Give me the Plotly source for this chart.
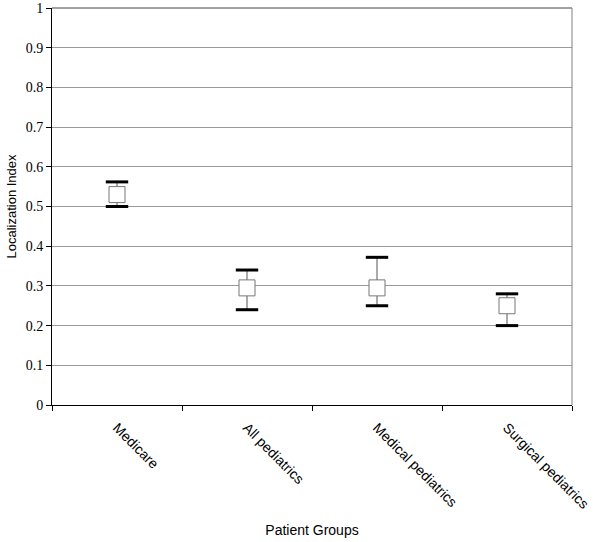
import plotly.graph_objects as go

groups = ["Medicare", "All pediatrics", "Medical pediatrics", "Surgical pediatrics"]
index_mean = [0.53, 0.295, 0.295, 0.25]
ci_upper = [0.562, 0.34, 0.372, 0.28]
ci_lower = [0.50, 0.24, 0.25, 0.20]
y_ticks = [0, 0.1, 0.2, 0.3, 0.4, 0.5, 0.6, 0.7, 0.8, 0.9, 1]
y_tick_text = ["0", "0.1", "0.2", "0.3", "0.4", "0.5", "0.6", "0.7", "0.8", "0.9", "1"]

err_plus = [u - m for u, m in zip(ci_upper, index_mean)]
err_minus = [m - l for m, l in zip(index_mean, ci_lower)]

fig = go.Figure()
# stems
fig.add_trace(go.Scatter(
    x=groups, y=index_mean, mode="markers",
    marker=dict(size=1, color="rgba(0,0,0,0)"),
    error_y=dict(type="data", symmetric=False, array=err_plus, arrayminus=err_minus,
                 color="#555555", thickness=1, width=0),
    showlegend=False, hoverinfo="skip"))
# caps
fig.add_trace(go.Scatter(
    x=groups + groups, y=ci_upper + ci_lower, mode="markers",
    marker=dict(symbol="line-ew", size=16, line=dict(color="black", width=3)),
    showlegend=False, hoverinfo="skip"))
# squares
fig.add_trace(go.Scatter(
    x=groups, y=index_mean, mode="markers",
    marker=dict(symbol="square", size=16, color="white",
                line=dict(color="#777777", width=1)),
    showlegend=False))

fig.update_layout(
    width=600, height=542,
    margin=dict(l=52, r=28, t=8, b=137),
    plot_bgcolor="white", paper_bgcolor="white",
    xaxis=dict(
        type="category", range=[-0.5, 3.5], tickson="boundaries", automargin=False,
        ticks="outside", ticklen=5, tickcolor="black", ticklabelstandoff=8,
        showline=True, linecolor="black", linewidth=1, showgrid=False,
        tickangle=45, tickfont=dict(family="Liberation Sans", size=14, color="black"),
        title=dict(text="Patient Groups", font=dict(family="Liberation Sans", size=14, color="black"),
                   standoff=14),
        zeroline=False),
    yaxis=dict(
        range=[0, 1], tickvals=y_ticks, ticktext=y_tick_text, automargin=False,
        ticks="outside", ticklen=5, tickcolor="black",
        showline=True, linecolor="black", linewidth=1,
        showgrid=True, gridcolor="#999999", gridwidth=1,
        tickfont=dict(family="'Liberation Serif', 'Times New Roman', serif", size=14, color="black"),
        title=dict(text="Localization Index", font=dict(family="Liberation Sans", size=13, color="black"),
                   standoff=6),
        zeroline=False),
    shapes=[
        dict(type="line", xref="paper", yref="paper", x0=0, x1=1, y0=1, y1=1,
             line=dict(color="#444444", width=1)),
        dict(type="line", xref="paper", yref="paper", x0=1, x1=1, y0=0, y1=1,
             line=dict(color="#808080", width=1)),
    ],
)

fig.write_html("out.html", config={"displayModeBar": False},
               post_script="document.body.style.margin='0';")
